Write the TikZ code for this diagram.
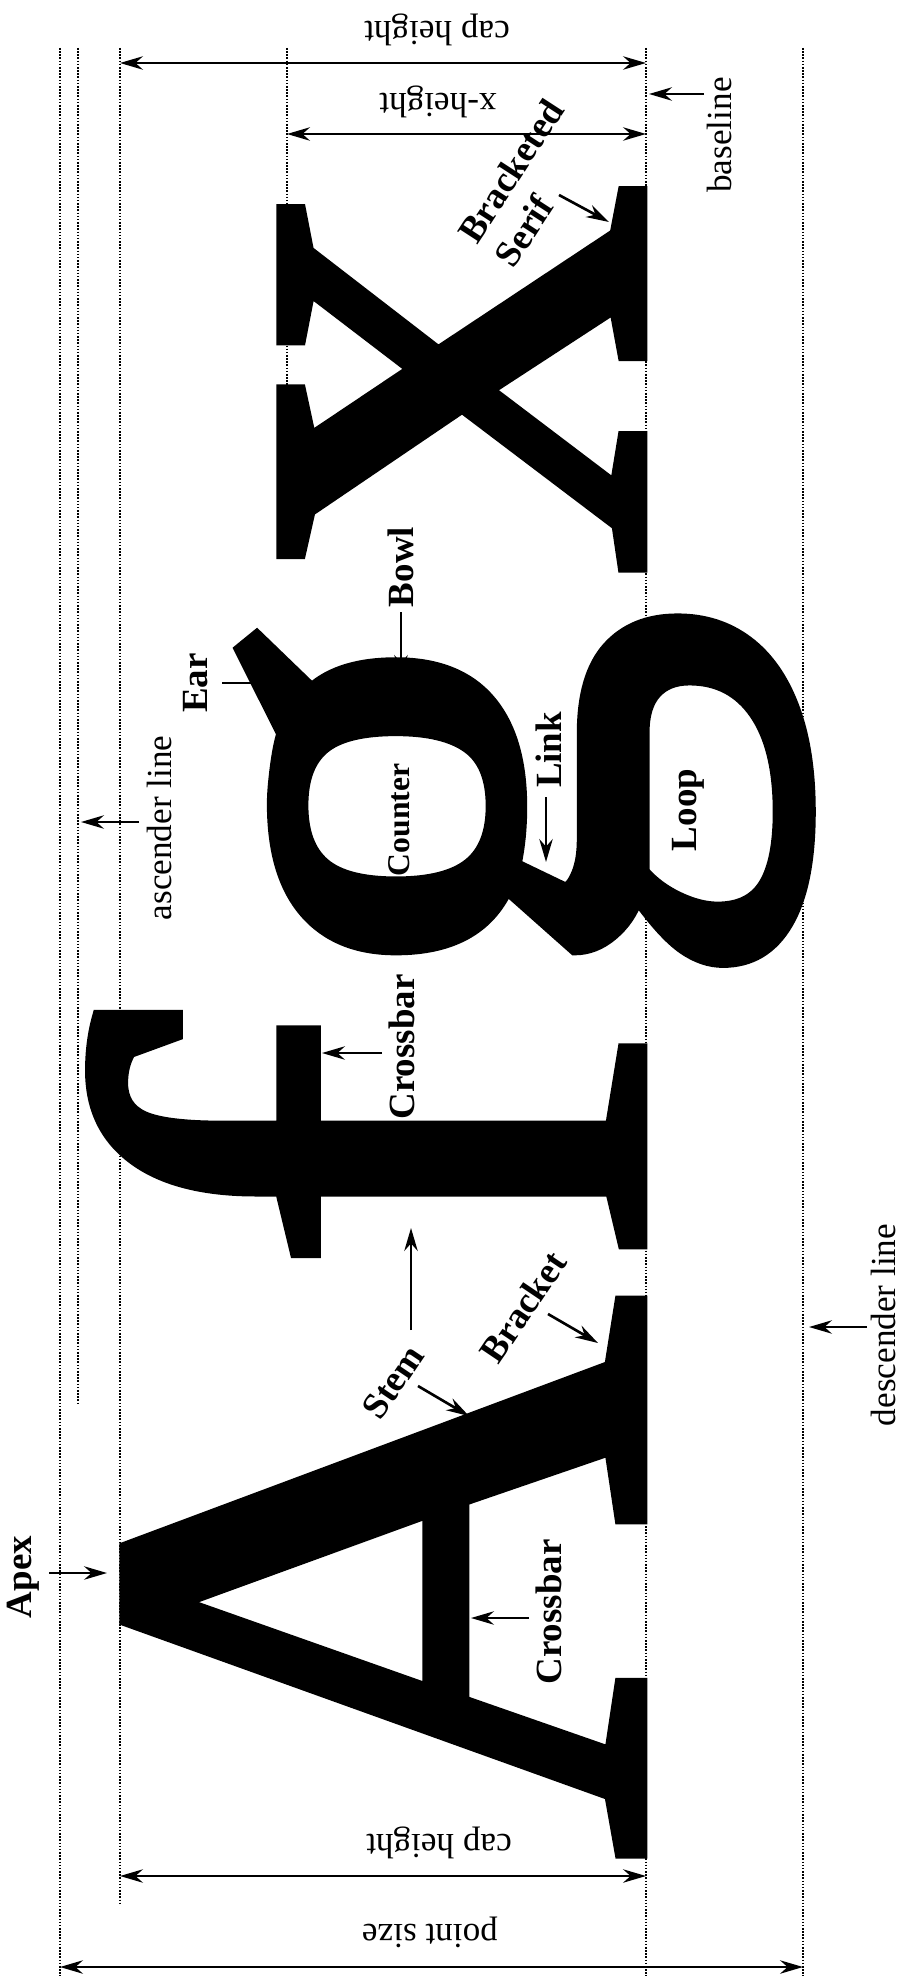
\documentclass[tikz,border=0pt]{standalone}
\usepackage{fontspec}
\setmainfont{Liberation Serif}
\newfontfamily\glyphfont{Liberation Serif}[BoldFont={Liberation Serif}, BoldFeatures={FakeBold=1.6}]
\usetikzlibrary{arrows.meta, positioning}

\tikzset{
  guide/.style={line width=0.45pt, dash pattern=on 0.45pt off 0.45pt},
  dimline/.style={line width=0.75pt, {Stealth[length=6.5pt,width=3.8pt]}-{Stealth[length=6.5pt,width=3.8pt]}},
  pointer/.style={line width=0.75pt, -{Stealth[length=6.5pt,width=3.8pt]}},
  glyph/.style={inner sep=0pt, anchor=base, rotate=90, font=\fontsize{222}{222}\glyphfont\bfseries},
  partlbl/.style={inner sep=2pt, font=\fontsize{10.5}{12.5}\selectfont\bfseries},
  linelbl/.style={inner sep=2pt, font=\fontsize{10}{12}\selectfont},
}

\begin{document}
\begin{tikzpicture}[x=0.01cm, y=-0.01cm]
    \useasboundingbox (0,0) rectangle (901,1976);

    % Guide lines
    \draw[guide] (60,48) -- (60,1976);
    \draw[guide] (78,48) -- (78,1405);
    \draw[guide] (120,48) -- (120,1904);
    \draw[guide] (287,48) -- (287,555);
    \draw[guide] (646,48) -- (646,1976);
    \draw[guide] (803,48) -- (803,1976);

    % Letters
    \node[glyph] (letA) at (641,1578) {A};
    \node[glyph] (letF) at (641,1146) {f};
    \node[glyph] (letG) at (641,800) {g};
    \node[glyph] (letX) at (641,378) {x};

    % Measures
    \draw[dimline] (120,63) -- (646,63);
    \node[linelbl, rotate=180] (captop) at (437,30) {cap height};
    \draw[dimline] (287,134) -- (646,134);
    \node[linelbl, rotate=180] (xheight) at (438,102) {x-height};
    \draw[dimline] (120,1876) -- (646,1876);
    \node[linelbl, rotate=180] (capbot) at (439,1843) {cap height};
    \draw[dimline] (60,1967) -- (803,1967);
    \node[linelbl, rotate=180] (ptsize) at (430,1932) {point size};

    % Line names
    \node[linelbl, rotate=90] (baseline) at (719,135) {baseline};
    \coordinate (basetip) at (649,94);
    \draw[pointer] ([shift={(-15,-41)}]baseline.center) -- (basetip);
    \node[linelbl, rotate=90] (ascline) at (159,828) {ascender line};
    \coordinate (asctip) at (81,822);
    \draw[pointer] ([shift={(-20,-6)}]ascline.center) -- (asctip);
    \node[linelbl, rotate=90] (descline) at (883,1325) {descender line};
    \coordinate (desctip) at (809,1327);
    \draw[pointer] ([shift={(-16,2)}]descline.center) -- (desctip);

    % Parts of A
    \node[partlbl, rotate=90] (apex) at (23,1577) {Apex};
    \coordinate (apextip) at (107,1573);
    \draw[pointer] ([shift={(26,-4)}]apex.center) -- (apextip);
    \node[partlbl, rotate=90] (crossA) at (549,1612) {Crossbar};
    \coordinate (crossAtip) at (471,1618);
    \draw[pointer] ([shift={(-20,6)}]crossA.center) -- (crossAtip);
    \node[partlbl, rotate=56] (stem) at (393,1382) {Stem};
    \coordinate (stemAtip) at (469,1416);
    \coordinate (stemFtip) at (411,1228);
    \draw[pointer] ([shift={(25,4)}]stem.center) -- (stemAtip);
    \draw[pointer] ([shift={(18,-52)}]stem.center) -- (stemFtip);
    \node[partlbl, rotate=56] (bracket) at (523,1307) {Bracket};
    \coordinate (brackettip) at (598,1343);
    \draw[pointer] ([shift={(25,7)}]bracket.center) -- (brackettip);

    % Parts of f
    \node[partlbl, rotate=90] (crossF) at (402,1047) {Crossbar};
    \coordinate (crossFtip) at (322,1053);
    \draw[pointer] ([shift={(-20,6)}]crossF.center) -- (crossFtip);

    % Parts of g
    \node[partlbl, rotate=90] (ear) at (196,683) {Ear};
    \coordinate (eartip) at (282,683);
    \draw[pointer] ([shift={(26,0)}]ear.center) -- (eartip);
    \node[partlbl, rotate=90] (bowl) at (401,567) {Bowl};
    \coordinate (bowltip) at (401,678);
    \draw[pointer] ([shift={(0,45)}]bowl.center) -- (bowltip);
    \node[partlbl, rotate=90, font=\fontsize{9}{11}\selectfont\bfseries] (counter) at (399,820) {Counter};
    \node[partlbl, rotate=90] (link) at (549,750) {Link};
    \coordinate (linktip) at (546,862);
    \draw[pointer] ([shift={(-3,47)}]link.center) -- (linktip);
    \node[partlbl, rotate=90] (loop) at (688,810) {Loop};

    % Parts of x
    \node[partlbl, rotate=57, align=left] (serif) at (529,183) {Bracketed\\Serif};
    \coordinate (seriftip) at (609,222);
    \draw[pointer] ([shift={(30,12)}]serif.center) -- (seriftip);
\end{tikzpicture}
\end{document}
